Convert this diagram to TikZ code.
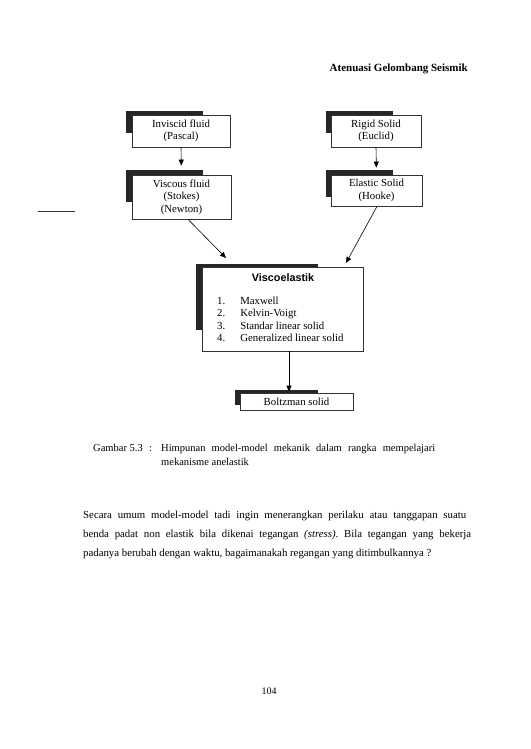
\documentclass[tikz,border=0pt]{standalone}
\usepackage{fontspec}
\setmainfont{Liberation Serif}
\newfontfamily\arialfam{Liberation Sans}
\usetikzlibrary{arrows.meta}
\frenchspacing
\begin{document}
\begin{tikzpicture}[x=1pt,y=-1pt,
  box/.style={draw=black!80, line width=0.6pt, fill=white, inner sep=0pt, align=center,
    font=\fontsize{10.8}{12.5}\selectfont},
  shadowbox/.style={fill=black!85},
  conn/.style={line width=0.6pt, -{Triangle[length=6pt,width=5pt]}},
  txt/.style={inner sep=0pt, font=\fontsize{10.8}{12.5}\selectfont},
  captxt/.style={inner sep=0pt, anchor=base west, font=\fontsize{10.5}{14}\selectfont},
  bodytxt/.style={inner sep=0pt, anchor=base west, font=\fontsize{10.8}{19}\selectfont}]
\useasboundingbox (0,0) rectangle (530,749);
\fill[white] (0,0) rectangle (530,749);

% header
\node[inner sep=0pt, anchor=base east, font=\fontsize{11}{13}\selectfont\bfseries] (hdr) at (468,72) {Atenuasi Gelombang Seismik};

% shadows
\fill[shadowbox] (126,111) rectangle (203,133);
\fill[shadowbox] (126,170) rectangle (203,202);
\fill[shadowbox] (326,111) rectangle (393,133);
\fill[shadowbox] (326,170) rectangle (393,197);
\fill[shadowbox] (196,264) rectangle (318,330);
\fill[shadowbox] (235,390) rectangle (318,405);

% boxes
\node[box, minimum width=98pt, minimum height=32pt] (inv) at (181,131) {Inviscid fluid\\(Pascal)};
\node[box, minimum width=99pt, minimum height=44pt] (vf) at (181.5,197) {Viscous fluid\\(Stokes)\\(Newton)};
\node[box, minimum width=90pt, minimum height=32pt] (rig) at (376,131) {Rigid Solid\\(Euclid)};
\node[box, minimum width=91pt, minimum height=31pt] (el) at (376.5,190.5) {Elastic Solid\\(Hooke)};
\node[box, minimum width=161pt, minimum height=84pt] (ve) at (282.5,309) {};
\node[box, minimum width=113pt, minimum height=17pt] (bz) at (296.5,401.5) {Boltzman solid};

% viscoelastik contents
\node[inner sep=0pt, font=\arialfam\bfseries\fontsize{10.8}{12}\selectfont] (vet) at (283,278) {Viscoelastik};
\node[txt, anchor=west, align=left] (vel) at (217,320.5) {%
  \begin{tabular}{@{}l@{\hspace{15pt}}l@{}}
  1. & Maxwell\\
  2. & Kelvin-Voigt\\
  3. & Standar linear solid\\
  4. & Generalized linear solid
  \end{tabular}};

% connectors
\coordinate (t1) at (226,258);
\coordinate (t2) at (346,263);
\draw[conn, shorten >=9pt] (inv.south) -- (vf.north);
\draw[conn, shorten >=7pt] (rig.south) -- (el.north);
\draw[conn] ([xshift=6.5pt]vf.south) -- (t1);
\draw[conn] ([xshift=0.5pt]el.south) -- (t2);
\draw[conn, shorten >=1pt] ([xshift=6.5pt]ve.south) -- ([xshift=-7.5pt]bz.north);

% margin mark
\draw[line width=0.8pt, black!80] (38,211) -- (75,211);

% caption
\node[captxt] (capa) at (93,451) {Gambar 5.3};
\node[captxt] (capb) at (149,451) {:};
\node[captxt] (capc) at (161,451) {\makebox[274pt][s]{Himpunan model-model mekanik dalam rangka mempelajari}};
\node[captxt] (capd) at (161,465) {mekanisme anelastik};

% body
\node[bodytxt] (p1) at (83,518) {\makebox[383pt][s]{Secara umum model-model tadi ingin menerangkan perilaku atau tanggapan suatu}};
\node[bodytxt] (p2) at (83,537) {\makebox[388pt][s]{benda padat non elastik bila dikenai tegangan \textit{(stress)}. Bila tegangan yang bekerja}};
\node[bodytxt] (p3) at (83,556) {padanya berubah dengan waktu, bagaimanakah regangan yang ditimbulkannya ?};

% page number
\node[txt, font=\fontsize{10}{12}\selectfont] (pg) at (269,691) {104};
\end{tikzpicture}
\end{document}
